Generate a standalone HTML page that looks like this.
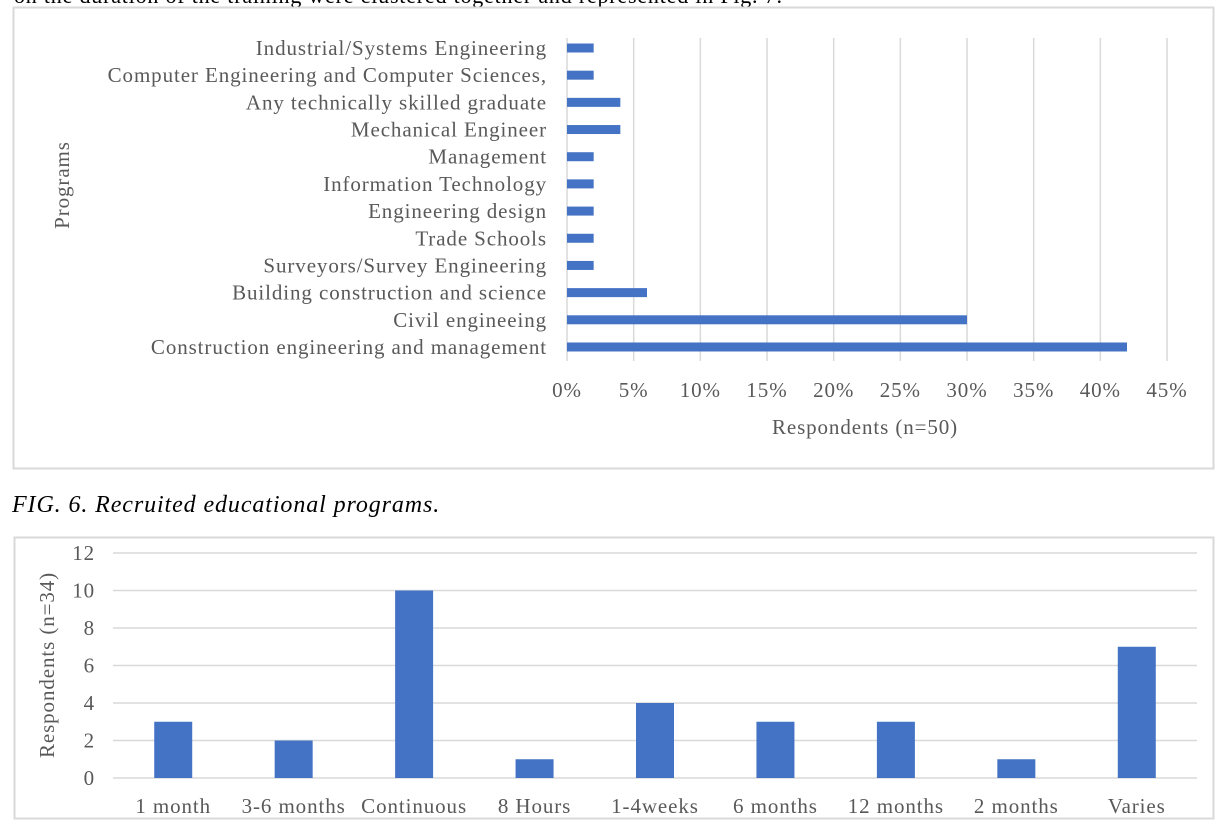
<!DOCTYPE html>
<html><head><meta charset="utf-8"><style>
body{margin:0;width:1224px;height:834px;background:#fff;overflow:hidden;position:relative;font-family:"Liberation Serif",serif}
.t{position:absolute;white-space:nowrap}
svg text{letter-spacing:0.9px}
</style></head><body>
<div class="t" style="left:14px;top:-17px;font-size:22px;color:#000;letter-spacing:0.8px">on the duration of the training were clustered together and represented in Fig. 7.</div>
<div class="t" style="left:12px;top:492px;font-size:24px;font-style:italic;color:#000;letter-spacing:0.9px">FIG. 6. Recruited educational programs.</div>
<svg width="1224" height="834" style="position:absolute;left:0;top:0" font-family="Liberation Serif, serif" fill="#595959">
<rect x="13.5" y="7.5" width="1200" height="461" fill="none" stroke="#d9d9d9" stroke-width="2"/>
<rect x="14.5" y="537.5" width="1199" height="281" fill="none" stroke="#d9d9d9" stroke-width="2"/>
<g id="topChart"></g><g id="botChart"></g>
<text x="865" y="434" font-size="21" text-anchor="middle">Respondents  (n=50)</text>
<text transform="translate(69,185) rotate(-90)" font-size="21" text-anchor="middle">Programs</text>
<text transform="translate(54,665) rotate(-90)" font-size="21" text-anchor="middle">Respondents  (n=34)</text>
</svg>
<script>
const progs=["Industrial/Systems Engineering","Computer Engineering and Computer Sciences,","Any technically skilled graduate","Mechanical Engineer","Management ","Information Technology","Engineering design","Trade Schools","Surveyors/Survey Engineering","Building construction and science","Civil engineeing","Construction engineering and management"];
const progVals=[2,2,4,4,2,2,2,2,2,6,30,42];
const pctTicks=[0,5,10,15,20,25,30,35,40,45];
const durs=["1 month","3-6 months","Continuous","8 Hours","1-4weeks","6 months","12 months","2 months","Varies"];
const durVals=[3,2,10,1,4,3,3,1,7];
const yTicks=[0,2,4,6,8,10,12];
const NS="http://www.w3.org/2000/svg";
function mk(p,tag,a,txt){const e=document.createElementNS(NS,tag);for(const k in a)e.setAttribute(k,a[k]);if(txt!==undefined)e.textContent=txt;p.appendChild(e);return e;}
const topG=document.getElementById('topChart'),botG=document.getElementById('botChart');
const xS=v=>567+v*600/45, rowY=i=>48+i*27.18;
pctTicks.forEach(t=>{const l=mk(topG,'line',{x1:xS(t),x2:xS(t),y1:38,y2:361,stroke:'#d9d9d9','stroke-width':1.5});


const tx=mk(topG,'text',{x:xS(t),y:397,'font-size':21,'text-anchor':'middle'},t+'%');

});
progs.forEach((p,i)=>{const tx=mk(topG,'text',{x:547,y:rowY(i)+7,'font-size':21,'text-anchor':'end'},p);


const r=mk(topG,'rect',{x:567,y:rowY(i)-4.5,width:xS(progVals[i])-567,height:9,fill:'#4472c4'});

});
const yS=v=>778-v*225/12, cw=(1197-113)/9, cx=i=>113+cw*(i+0.5);
yTicks.forEach(t=>{const l=mk(botG,'line',{x1:113,x2:1197,y1:yS(t),y2:yS(t),stroke:'#d9d9d9','stroke-width':1.5});


const tx=mk(botG,'text',{x:95,y:yS(t)+7,'font-size':21,'text-anchor':'end'},t);

});
durs.forEach((d,i)=>{const r=mk(botG,'rect',{x:cx(i)-19,y:yS(durVals[i]),width:38,height:778-yS(durVals[i]),fill:'#4472c4'});


const tx=mk(botG,'text',{x:cx(i),y:813,'font-size':21,'text-anchor':'middle'},d);

});
</script>
</body></html>
